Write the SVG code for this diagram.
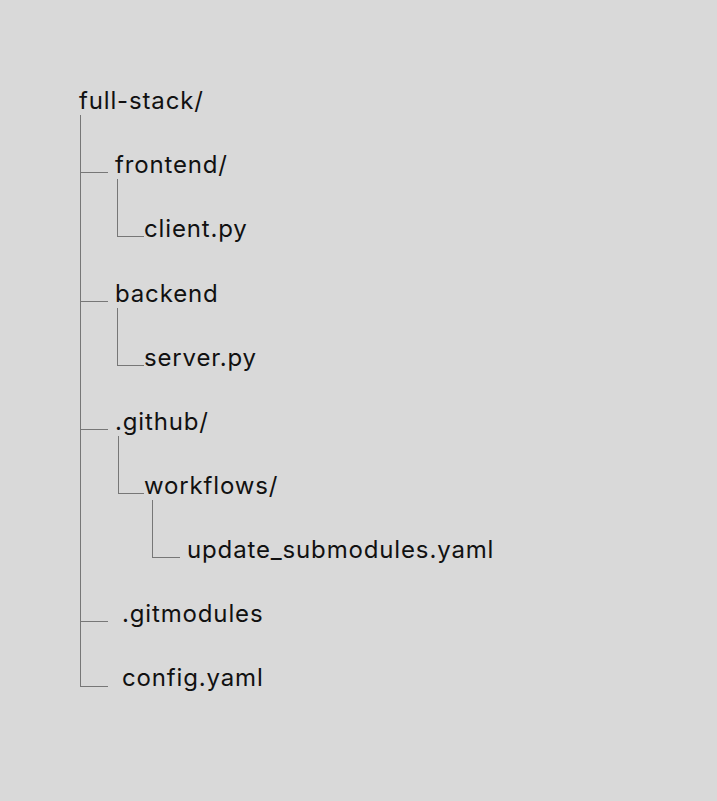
<svg xmlns="http://www.w3.org/2000/svg" width="717" height="801" viewBox="0 0 717 801">
<style>
text{font-family:Inter,"Liberation Sans",sans-serif;font-size:24px;letter-spacing:0.85px;fill:#111}
.c line{stroke:#777;stroke-width:1}
</style>
<rect width="717" height="801" fill="#d9d9d9"/>
<g class="c" id="connectors">
<line x1="80.5" y1="115" x2="80.5" y2="687"/>
<line x1="80" y1="172.5" x2="108" y2="172.5"/>
<line x1="80" y1="301.5" x2="108" y2="301.5"/>
<line x1="80" y1="429.5" x2="108" y2="429.5"/>
<line x1="80" y1="621.5" x2="108" y2="621.5"/>
<line x1="80" y1="686.5" x2="108" y2="686.5"/>
<line x1="117.5" y1="179" x2="117.5" y2="237"/>
<line x1="117" y1="236.5" x2="144" y2="236.5"/>
<line x1="117.5" y1="308" x2="117.5" y2="365"/>
<line x1="117" y1="365.5" x2="144" y2="365.5"/>
<line x1="118.5" y1="436" x2="118.5" y2="493"/>
<line x1="118" y1="493.5" x2="144" y2="493.5"/>
<line x1="152.5" y1="500" x2="152.5" y2="557"/>
<line x1="152" y1="557.5" x2="180" y2="557.5"/>
</g>
<g id="n-fullstack"><text x="79" y="109">full-stack/</text></g>
<g id="n-frontend"><text x="115" y="173">frontend/</text></g>
<g id="n-client"><text x="144" y="237">client.py</text></g>
<g id="n-backend"><text x="115" y="302">backend</text></g>
<g id="n-server"><text x="144" y="366">server.py</text></g>
<g id="n-github"><text x="115" y="430">.github/</text></g>
<g id="n-workflows"><text x="144" y="494">workflows/</text></g>
<g id="n-update"><text x="187" y="558">update_submodules.yaml</text></g>
<g id="n-gitmodules"><text x="122" y="622">.gitmodules</text></g>
<g id="n-config"><text x="122" y="686">config.yaml</text></g>
</svg>
